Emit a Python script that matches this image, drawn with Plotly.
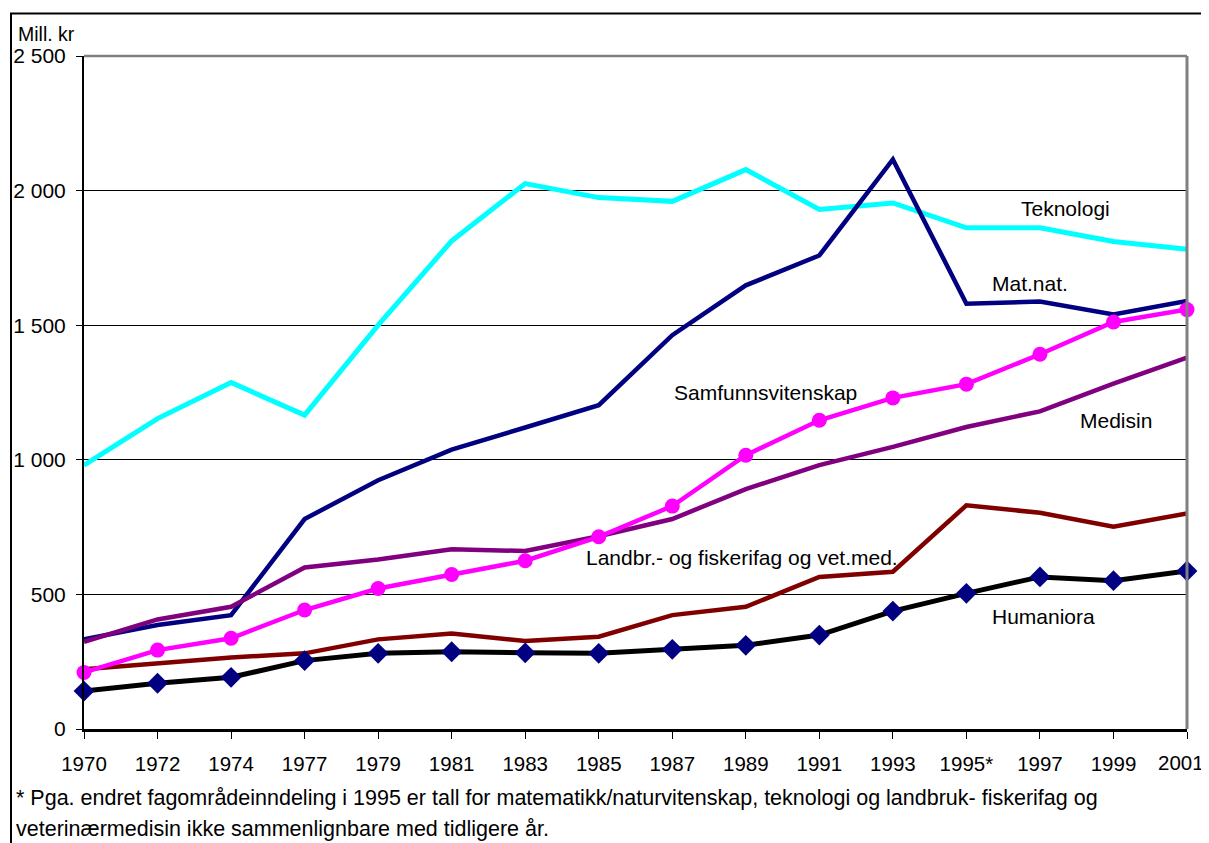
import plotly.graph_objects as go

years = ["1970", "1972", "1974", "1977", "1979", "1981", "1983", "1985",
         "1987", "1989", "1991", "1993", "1995*", "1997", "1999", "2001"]

teknologi = [980, 1153, 1287, 1166, 1500, 1813, 2026, 1974, 1960, 2078, 1930, 1954, 1862, 1862, 1811, 1782]
matnat = [333, 386, 423, 780, 924, 1038, 1120, 1203, 1463, 1648, 1759, 2116, 1580, 1588, 1540, 1590]
medisin = [324, 407, 454, 600, 630, 668, 661, 716, 780, 891, 980, 1048, 1122, 1180, 1283, 1380]
landbr = [222, 246, 266, 281, 333, 355, 327, 343, 423, 454, 565, 584, 831, 803, 751, 801]
samfunn = [210, 293, 337, 442, 522, 574, 625, 714, 828, 1017, 1147, 1230, 1281, 1392, 1512, 1558]
humaniora = [141, 170, 192, 254, 281, 287, 283, 281, 296, 311, 349, 438, 504, 565, 551, 587]

series_labels = ["Teknologi", "Mat.nat.", "Samfunnsvitenskap", "Medisin",
                 "Landbr.- og fiskerifag og vet.med.", "Humaniora"]

y_ticks = [0, 500, 1000, 1500, 2000, 2500]

footnote = ["* Pga. endret fagområdeinndeling i 1995 er tall for matematikk/naturvitenskap, teknologi og landbruk- fiskerifag og",
            "veterinærmedisin ikke sammenlignbare med tidligere år."]

# page body margin of the html page shifts the figure by 8 px
OFF = 8
W, H = 1209 - OFF, 843 - OFF
# plot area in window pixels: x 84..1187, y 55.5..729
L = 84 - OFF
R = W - (1187 - OFF)
T = 55.5 - OFF
B = H - (729 - OFF)
PW, PH = W - L - R, H - T - B


def px(x):
    return (x - OFF - L) / PW


def py(y):
    return (729 - y) / PH


FONT = "Liberation Sans, Arial, sans-serif"
xs = list(range(len(years)))
# the last category label sits at the window edge: it is drawn as a
# right-anchored annotation so it stays fully inside the page
tick_text = years[:-1] + [""]

fig = go.Figure()


def add_line(vals, color, width=4, marker=None):
    kw = dict(x=xs, y=vals, mode="lines", line=dict(color=color, width=width),
              hoverinfo="skip", showlegend=False, cliponaxis=False)
    if marker:
        kw["mode"] = "lines+markers"
        kw["marker"] = marker
    fig.add_trace(go.Scatter(**kw))


add_line(teknologi, "#00FFFF", 5)
add_line(matnat, "#000080", 4.5)
add_line(medisin, "#800080", 4.5)
add_line(landbr, "#800000", 4.5)
add_line(samfunn, "#FF00FF", 4.5, dict(symbol="circle", size=15, color="#FF00FF"))
add_line(humaniora, "#000000", 5, dict(symbol="diamond", size=16, color="#000080"))

fig.update_layout(
    width=W, height=H, autosize=False,
    margin=dict(l=L, r=R, t=T, b=B, pad=0, autoexpand=False),
    paper_bgcolor="white", plot_bgcolor="white",
    font=dict(family=FONT, size=21, color="black"),
    separators=", ",
    showlegend=False,
)

fig.update_xaxes(
    range=[0, len(years) - 1], tickmode="array", tickvals=xs, ticktext=tick_text,
    showgrid=False, zeroline=False, automargin=False,
    showline=True, linecolor="black", linewidth=2.5,
    ticks="outside", ticklen=7, tickwidth=1.2, tickcolor="black",
    ticklabelstandoff=8, ticklabeloverflow="allow",
    tickfont=dict(family=FONT, size=20.5, color="black"),
)
fig.update_yaxes(
    range=[0, 2500], tickmode="array", tickvals=y_ticks, tickformat=",d",
    showgrid=True, gridcolor="black", gridwidth=1,
    zeroline=False, automargin=False,
    showline=True, linecolor="black", linewidth=2,
    ticks="outside", ticklen=6, tickwidth=1.2, tickcolor="black",
    ticklabelstandoff=6, ticklabeloverflow="allow",
    tickfont=dict(family=FONT, size=21, color="black"),
)

shapes = [
    # gray plot-area border on top and right
    dict(type="line", xref="paper", yref="paper", x0=0, x1=1, y0=1, y1=1,
         line=dict(color="#808080", width=2.5)),
    dict(type="line", xref="paper", yref="paper", x0=1, x1=1, y0=0, y1=1,
         line=dict(color="#808080", width=3)),
    # outer chart frame
    dict(type="rect", xref="paper", yref="paper",
         x0=px(11), x1=px(1215), y0=py(850), y1=py(13),
         line=dict(color="black", width=2), fillcolor="rgba(0,0,0,0)", layer="above"),
]
fig.update_layout(shapes=shapes)

ann = []
label_pos = [(1065, 208), (1030, 283), (765, 392), (1116, 420), (742, 557), (1043, 616)]
for text, (x, y) in zip(series_labels, label_pos):
    ann.append(dict(text=text, xref="paper", yref="paper", x=px(x), y=py(y),
                    xanchor="center", yanchor="middle", showarrow=False,
                    font=dict(family=FONT, size=21, color="black")))

# last x tick label
ann.append(dict(text=years[-1], xref="paper", yref="paper", x=px(1206), y=py(763),
                xanchor="right", yanchor="middle", showarrow=False,
                font=dict(family=FONT, size=20.5, color="black")))

ann.append(dict(text="Mill. kr", xref="paper", yref="paper", x=px(16), y=py(33),
                xanchor="left", yanchor="middle", showarrow=False,
                font=dict(family=FONT, size=19.5, color="black")))
for i, line in enumerate(footnote):
    ann.append(dict(text=line, xref="paper", yref="paper", x=px(14), y=py(798 + 31 * i),
                    xanchor="left", yanchor="middle", showarrow=False,
                    font=dict(family=FONT, size=21.5, color="black")))
fig.update_layout(annotations=ann)

fig.write_html("out.html")
